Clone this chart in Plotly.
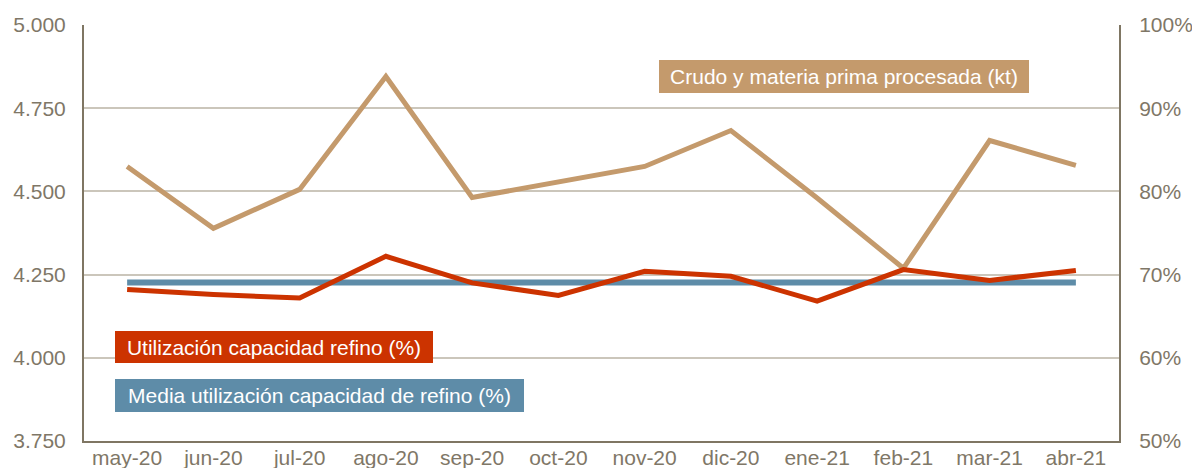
import plotly.graph_objects as go

# Monthly refinery activity, May 2020 - April 2021
months = ["may-20", "jun-20", "jul-20", "ago-20", "sep-20", "oct-20",
          "nov-20", "dic-20", "ene-21", "feb-21", "mar-21", "abr-21"]
crudo_kt = [4575, 4389, 4506, 4845, 4482, 4527, 4575, 4683, 4480, 4269, 4653, 4578]
utilizacion_pct = [68.2, 67.6, 67.2, 72.2, 69.0, 67.5, 70.4, 69.8, 66.8, 70.6, 69.3, 70.5]
media_utilizacion_pct = [69.05] * len(months)

left_ticks = [3750, 4000, 4250, 4500, 4750, 5000]
right_ticks = [50, 60, 70, 80, 90, 100]
right_labels = ["50%", "60%", "70%", "80%", "90%", "100%"]

C_CRUDO = "#C49A6C"
C_UTIL = "#CC3300"
C_MEDIA = "#5E8CA8"
C_AXIS = "#7F7663"
C_GRID = "#CBC6BB"
C_TICK = "#7F7767"
FONT = "Arial, Liberation Sans, sans-serif"

fig = go.Figure()
fig.add_trace(go.Scatter(x=months, y=media_utilizacion_pct, yaxis="y2", mode="lines",
                         line=dict(color=C_MEDIA, width=6), name="Media"))
fig.add_trace(go.Scatter(x=months, y=crudo_kt, yaxis="y", mode="lines",
                         line=dict(color=C_CRUDO, width=5), name="Crudo"))
fig.add_trace(go.Scatter(x=months, y=utilizacion_pct, yaxis="y2", mode="lines",
                         line=dict(color=C_UTIL, width=5), name="Utilización"))

L, R, T, B = 84, 1119, 24.5, 441
W, H = R - L, B - T

def box(text, left, top, width, height, color):
    fig.add_annotation(text=text, xref="paper", yref="paper",
                       x=(left - L) / W, y=(B - top) / H,
                       xanchor="left", yanchor="top", showarrow=False,
                       width=width, height=height, align="center", valign="middle",
                       bgcolor=color, borderwidth=0, borderpad=0,
                       font=dict(family=FONT, size=21, color="white"))

box("Crudo y materia prima procesada (kt)", 659, 60, 370, 33, C_CRUDO)
box("Utilización capacidad refino (%)", 115, 331, 318, 32, C_UTIL)
box("Media utilización capacidad de refino (%)", 115, 379, 409, 33, C_MEDIA)

fig.update_layout(
    width=1192, height=468,
    margin=dict(l=L, r=1192 - R, t=T, b=468 - B),
    paper_bgcolor="white", plot_bgcolor="white",
    showlegend=False,
    separators=",.",
    font=dict(family=FONT, size=21, color=C_TICK),
    xaxis=dict(type="category", range=[-0.5, 11.5], showgrid=False,
               showline=True, linecolor=C_AXIS, linewidth=2, automargin=False,
               ticks="", ticklabelstandoff=-3,
               tickfont=dict(size=21, color=C_TICK)),
    yaxis=dict(range=[3750, 5000], tickvals=left_ticks, tickformat=",d",
               showgrid=True, gridcolor=C_GRID, gridwidth=2, automargin=False,
               showline=True, linecolor=C_AXIS, linewidth=2,
               zeroline=False, ticks="", ticklabelstandoff=12,
               tickfont=dict(size=21, color=C_TICK)),
    yaxis2=dict(range=[50, 100], tickvals=right_ticks, ticktext=right_labels,
                overlaying="y", side="right", showgrid=False, automargin=False,
                showline=True, linecolor=C_AXIS, linewidth=2,
                zeroline=False, ticks="", ticklabelstandoff=14,
                tickfont=dict(size=21, color=C_TICK)),
)

fig.write_html("out.html")
